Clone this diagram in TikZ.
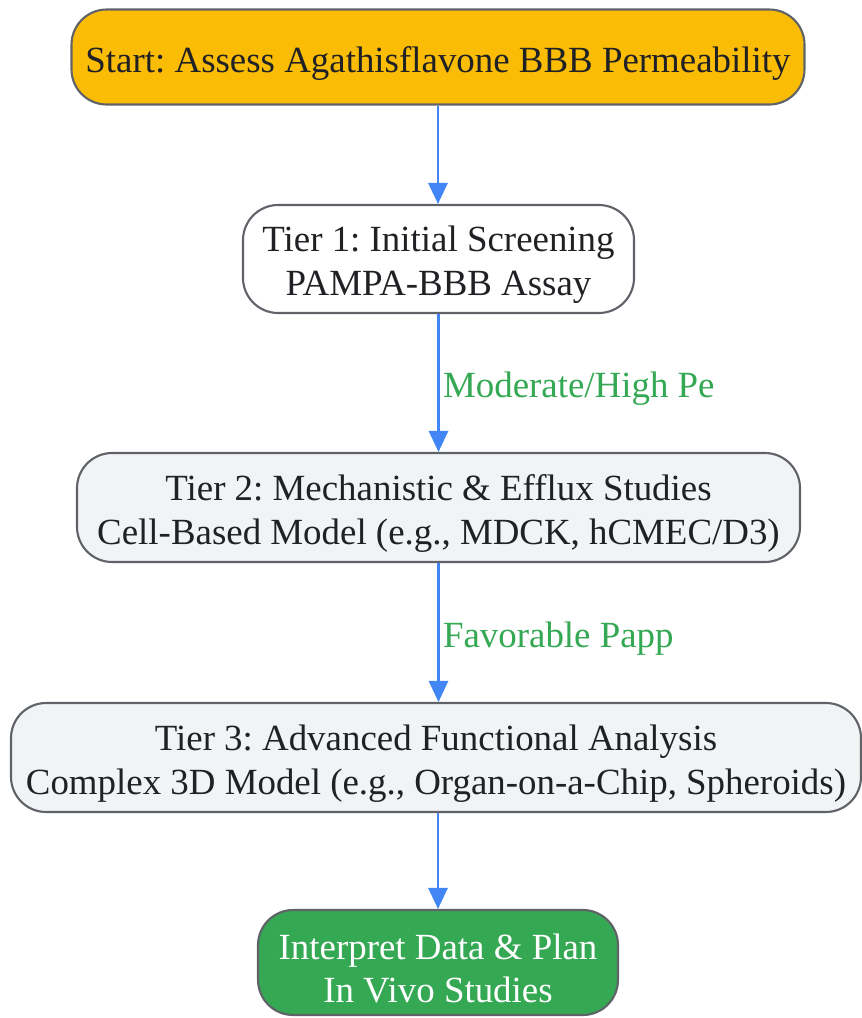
\documentclass[tikz,border=0pt]{standalone}
\usepackage{fontspec}
\setmainfont{Liberation Serif}
\usetikzlibrary{arrows.meta}
\definecolor{startorange}{HTML}{FBBC05}
\definecolor{tiergray}{HTML}{F1F3F4}
\definecolor{endgreen}{HTML}{34A853}
\definecolor{edgegray}{HTML}{5F6368}
\definecolor{textdark}{HTML}{202124}
\definecolor{flowblue}{HTML}{4285F4}
\frenchspacing
\tikzset{
  stepbox/.style={draw=edgegray, line width=1.2pt, rounded corners=20pt, inner sep=0pt},
  boxtext/.style={align=center, text=textdark, inner sep=0pt, yshift=-0.12cm,
    font=\fontsize{21}{25}\selectfont},
  flow/.style={draw=flowblue, line width=1.2pt,
    -{Triangle[length=12pt,width=11pt]}},
  condlabel/.style={text=endgreen, font=\fontsize{21}{25}\selectfont, anchor=west,
    inner sep=2pt, yshift=-0.12cm}
}
\begin{document}
\begin{tikzpicture}[x=0.02cm, y=-0.02cm]
        \useasboundingbox (0,0) rectangle (862,1018);
        \node[stepbox, fill=startorange, minimum width=733*0.02cm, minimum height=95*0.02cm,
          label={[boxtext]center:Start: Assess Agathisflavone BBB Permeability}] (start) at (438, 57) {};
        \node[stepbox, fill=white, minimum width=391*0.02cm, minimum height=108*0.02cm,
          label={[boxtext]center:{Tier 1: Initial Screening\\PAMPA-BBB Assay}}] (tier1) at (438.5, 259) {};
        \node[stepbox, fill=tiergray, minimum width=723*0.02cm, minimum height=109*0.02cm,
          label={[boxtext]center:{Tier 2: Mechanistic \& Efflux Studies\\Cell-Based Model (e.g., MDCK, hCMEC/D3)}}] (tier2) at (438.5, 507.5) {};
        \node[stepbox, fill=tiergray, minimum width=850*0.02cm, minimum height=109*0.02cm,
          label={[boxtext]center:{Tier 3: Advanced Functional Analysis\\Complex 3D Model (e.g., Organ-on-a-Chip, Spheroids)}}] (tier3) at (436, 757.5) {};
        \node[stepbox, fill=endgreen, minimum width=360*0.02cm, minimum height=105*0.02cm,
          label={[boxtext, text=white]center:{Interpret Data \& Plan\\In Vivo Studies}}] (finish) at (438, 962.5) {};
        % start to tier 1
        \draw[flow] (start.south) -- (start.south |- tier1.north);
        % tier 1 to tier 2
        \draw[flow] (tier1.south) -- node[condlabel] {Moderate/High Pe} (tier1.south |- tier2.north);
        % tier 2 to tier 3
        \draw[flow] (tier2.south) -- node[condlabel] {Favorable Papp} (tier2.south |- tier3.north);
        % tier 3 to end
        \draw[flow] (finish.north |- tier3.south) -- (finish.north);
    \end{tikzpicture}
\end{document}
